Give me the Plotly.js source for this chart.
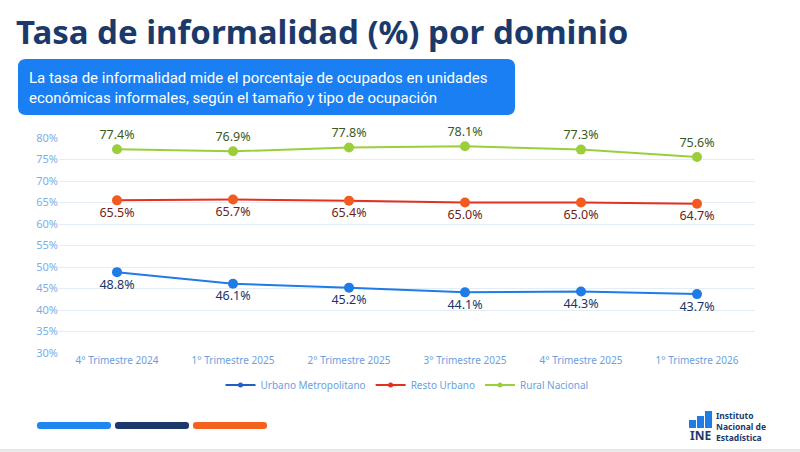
<!DOCTYPE html>
<html><head><meta charset="utf-8">
<script src="https://cdn.plot.ly/plotly-3.0.1.min.js"></script>
<style>html,body{margin:0;padding:0;background:#fff;}#chart{width:800px;height:452px;}</style>
</head><body><div id="chart"></div>
<script>
const categories = ["4° Trimestre 2024","1° Trimestre 2025","2° Trimestre 2025","3° Trimestre 2025","4° Trimestre 2025","1° Trimestre 2026"];
const urbanoMetropolitano = [48.8, 46.1, 45.2, 44.1, 44.3, 43.7];
const restoUrbano = [65.5, 65.7, 65.4, 65.0, 65.0, 64.7];
const ruralNacional = [77.4, 76.9, 77.8, 78.1, 77.3, 75.6];
const yTicks = [30,35,40,45,50,55,60,65,70,75,80];

const L=59, R=755, T=138, B=353;
const px = x => (x-L)/(R-L);
const py = y => (B-y)/(B-T);
const fmt = a => a.map(v => v.toFixed(1)+'%');
const F = '"Noto Sans", "Open Sans", sans-serif';

function tr(name, y, line, mk, pos, tc){
  return {type:'scatter', mode:'lines+markers+text', name, x:categories, y, showlegend:false,
    line:{color:line,width:2}, marker:{color:mk,size:10},
    text:fmt(y), textposition:pos, textfont:{family:F,size:12.5,color:tc},
    cliponaxis:false, hoverinfo:'skip'};
}
function lg(name, line, mk){
  return {type:'scatter', mode:'lines+markers', name, x:[categories[0]], y:[null],
    line:{color:line,width:2}, marker:{color:mk,size:5}, hoverinfo:'skip'};
}
const data = [
  tr('Urbano Metropolitano', urbanoMetropolitano, '#1f7be6', '#1f7be6', 'bottom center', '#1b3567'),
  tr('Resto Urbano', restoUrbano, '#e2321f', '#f25a1f', 'bottom center', '#6d2417'),
  tr('Rural Nacional', ruralNacional, '#9bcf3a', '#9bcf3a', 'top center', '#3b5a1c'),
  lg('Urbano Metropolitano', '#1f5fc8', '#1f5fc8'),
  lg('Resto Urbano', '#e2321f', '#e2321f'),
  lg('Rural Nacional', '#9bcf3a', '#9bcf3a')
];

function rrect(x0,y0,x1,y1,r,color){
  const X=v=>px(v), Y=v=>py(v);
  return {type:'path', xref:'paper', yref:'paper', fillcolor:color, line:{width:0}, layer:'below',
    path:`M ${X(x0+r)} ${Y(y0)} L ${X(x1-r)} ${Y(y0)} Q ${X(x1)} ${Y(y0)} ${X(x1)} ${Y(y0+r)} L ${X(x1)} ${Y(y1-r)} Q ${X(x1)} ${Y(y1)} ${X(x1-r)} ${Y(y1)} L ${X(x0+r)} ${Y(y1)} Q ${X(x0)} ${Y(y1)} ${X(x0)} ${Y(y1-r)} L ${X(x0)} ${Y(y0+r)} Q ${X(x0)} ${Y(y0)} ${X(x0+r)} ${Y(y0)} Z`};
}
function rect(x0,y0,x1,y1,color){
  return {type:'rect', xref:'paper', yref:'paper', x0:px(x0), x1:px(x1), y0:py(y1), y1:py(y0), fillcolor:color, line:{width:0}};
}

const shapes = [
  rrect(18,59,515,115,8,'#1a7ff2'),
  rrect(37,422,111,429,3,'#2187f0'),
  rrect(115,422,189,429,3,'#1b3a6b'),
  rrect(193,422,267,429,3,'#f5621e'),
  rect(689,420,696,428,'#1f7be6'),
  rect(697,416,704,428,'#1f7be6'),
  rect(705,411,712,428,'#1f7be6'),
  rect(0,449,800,452,'#e8e8e8')
];

const annotations = [
  {xref:'paper',yref:'paper',x:px(14),y:py(31),xanchor:'left',yanchor:'middle',showarrow:false,
   text:'<b>Tasa de informalidad (%) por dominio</b>',font:{family:F,size:33,color:'#1b3a6b'}},
  {xref:'paper',yref:'paper',x:px(27),y:py(88),xanchor:'left',yanchor:'middle',showarrow:false,align:'left',
   text:'La tasa de informalidad mide el porcentaje de ocupados en unidades<br>económicas informales, según el tamaño y tipo de ocupación',
   font:{family:'Roboto, sans-serif',size:15,color:'#ffffff'}},
  {xref:'paper',yref:'paper',x:px(700.5),y:py(435.5),xanchor:'center',yanchor:'middle',showarrow:false,
   text:'<b>INE</b>',font:{family:F,size:12,color:'#1b3a6b'}},
  {xref:'paper',yref:'paper',x:px(714),y:py(426),xanchor:'left',yanchor:'middle',showarrow:false,align:'left',
   text:'<b>Instituto<br>Nacional de<br>Estadística</b>',font:{family:F,size:8.5,color:'#1b3a6b'}}
];

const layout = {
  width:800, height:452, margin:{l:L, r:800-R, t:T, b:452-B},
  paper_bgcolor:'#ffffff', plot_bgcolor:'#ffffff', showlegend:true,
  xaxis:{type:'category', showgrid:false, zeroline:false, showline:false, ticks:'',
    tickfont:{family:F,size:10,color:'#6a9fe0'}, range:[-0.5,5.5]},
  yaxis:{range:[30,80], tickvals:yTicks, ticktext:yTicks.map(v=>v+'%'), showgrid:true, gridcolor:'#e4ecf6',
    zeroline:false, showline:false, tickfont:{family:F,size:11,color:'#7aaee8'}, ticklen:0, ticks:''},
  legend:{orientation:'h', x:0.5, xanchor:'center', y:py(385), yanchor:'middle',
    font:{family:F,size:10,color:'#6a9fe0'}, itemwidth:30},
  shapes, annotations
};
Plotly.newPlot('chart', data, layout, {displayModeBar:false, staticPlot:true});
</script></body></html>
